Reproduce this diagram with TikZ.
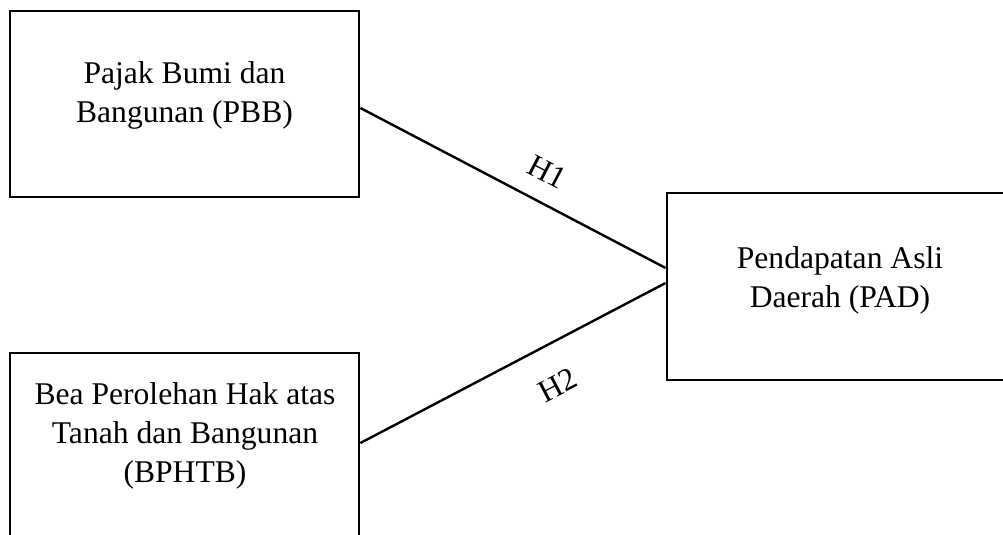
\documentclass[tikz,border=0pt]{standalone}
\usepackage{fontspec}
\setmainfont{Liberation Serif}
\begin{document}
\begin{tikzpicture}[x=0.5pt,y=-0.5pt,
  box/.style={draw=black,line width=1.4pt,rectangle,minimum width=174.5pt,inner sep=0pt},
  lbl/.style={font=\fontsize{15.8pt}{19.5pt}\selectfont,align=center,inner sep=0pt},
  hyp/.style={font=\fontsize{15.8pt}{19.5pt}\selectfont,inner sep=0pt},
  conn/.style={draw=black,line width=1.2pt}]
\useasboundingbox (0,0) rectangle (1003,535);
\clip (0,0) rectangle (1003,535);
\fill[white] (0,0) rectangle (1003,535);
\node[box,minimum height=93pt] (pbb) at (184.5,104) {};
\node[box,minimum height=93pt] (bphtb) at (184.5,446) {};
\node[box,minimum width=173pt,minimum height=93.5pt] (pad) at (840,286.5) {};
\node[lbl] (tpbb) at (184.5,95.5) {Pajak Bumi dan\\Bangunan (PBB)};
\node[lbl] (tbphtb) at (185,436) {Bea Perolehan Hak atas\\Tanah dan Bangunan\\(BPHTB)};
\node[lbl] (tpad) at (840,280) {Pendapatan Asli\\Daerah (PAD)};
\coordinate (e1) at ([yshift=9.25pt]pad.west);
\coordinate (e2) at ([yshift=1.75pt]pad.west);
\draw[conn] ([yshift=-2pt]pbb.east) -- (e1);
\draw[conn] ([yshift=1.5pt]bphtb.east) -- (e2);
\node[hyp,rotate=-27.6] (h1) at (547,172) {H1};
\node[hyp,rotate=27.6] (h2) at (558,385) {H2};
\end{tikzpicture}
\end{document}
